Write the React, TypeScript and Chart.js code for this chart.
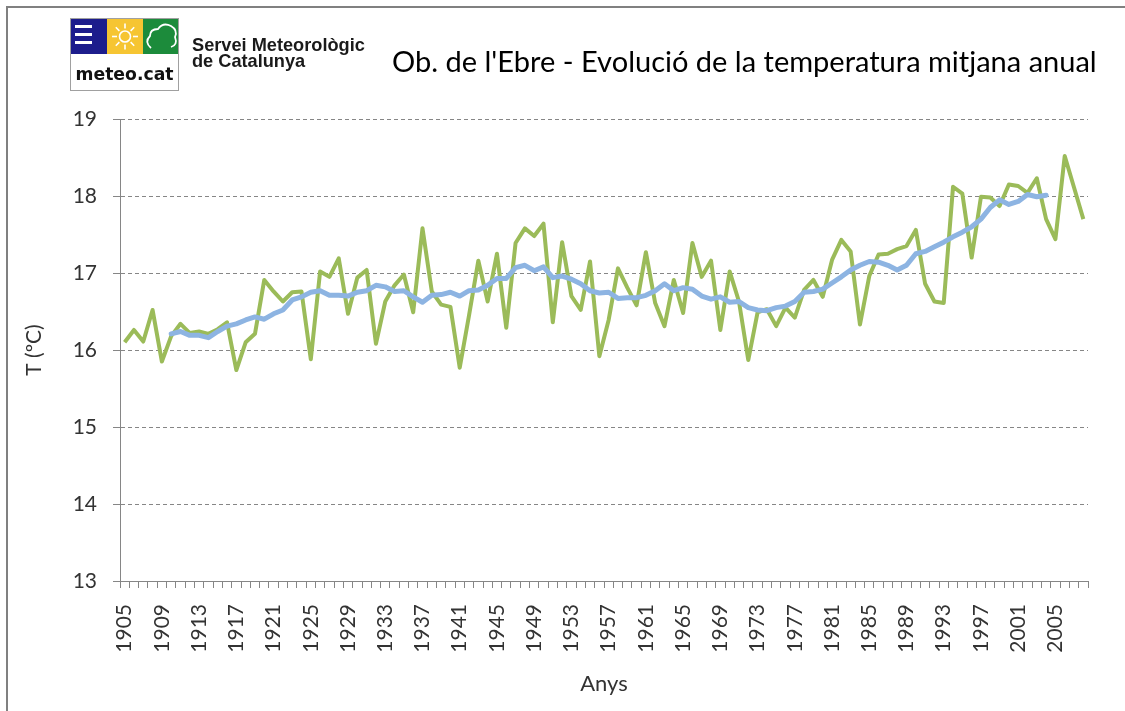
import React, { useEffect, useRef } from "react";
import { Chart, registerables } from "chart.js";

Chart.register(...registerables);

const years: string[] = [
  "1905", "1906", "1907", "1908", "1909", "1910", "1911", "1912", "1913", "1914",
  "1915", "1916", "1917", "1918", "1919", "1920", "1921", "1922", "1923", "1924",
  "1925", "1926", "1927", "1928", "1929", "1930", "1931", "1932", "1933", "1934",
  "1935", "1936", "1937", "1938", "1939", "1940", "1941", "1942", "1943", "1944",
  "1945", "1946", "1947", "1948", "1949", "1950", "1951", "1952", "1953", "1954",
  "1955", "1956", "1957", "1958", "1959", "1960", "1961", "1962", "1963", "1964",
  "1965", "1966", "1967", "1968", "1969", "1970", "1971", "1972", "1973", "1974",
  "1975", "1976", "1977", "1978", "1979", "1980", "1981", "1982", "1983", "1984",
  "1985", "1986", "1987", "1988", "1989", "1990", "1991", "1992", "1993", "1994",
  "1995", "1996", "1997", "1998", "1999", "2000", "2001", "2002", "2003", "2004",
  "2005", "2006", "2007", "2008",
];

// Annual mean temperature (ºC), 1905–2008
const annualTemp: number[] = [
  16.10, 16.26, 16.11, 16.52, 15.85, 16.18, 16.34, 16.22, 16.24, 16.21,
  16.27, 16.36, 15.74, 16.10, 16.21, 16.91, 16.76, 16.63, 16.75, 16.76,
  15.88, 17.02, 16.95, 17.19, 16.47, 16.94, 17.04, 16.08, 16.63, 16.84,
  16.98, 16.49, 17.58, 16.76, 16.59, 16.56, 15.77, 16.45, 17.16, 16.63,
  17.25, 16.29, 17.39, 17.58, 17.48, 17.64, 16.36, 17.40, 16.70, 16.52,
  17.15, 15.92, 16.39, 17.06, 16.81, 16.58, 17.27, 16.61, 16.31, 16.91,
  16.48, 17.39, 16.95, 17.16, 16.26, 17.02, 16.63, 15.87, 16.49, 16.53,
  16.31, 16.55, 16.42, 16.78, 16.91, 16.69, 17.17, 17.43, 17.28, 16.33,
  16.96, 17.24, 17.25, 17.31, 17.35, 17.56, 16.86, 16.63, 16.61, 18.12,
  18.03, 17.20, 17.99, 17.98, 17.87, 18.15, 18.13, 18.04, 18.23, 17.70,
  17.44, 18.52, 18.11, 17.70,
];

// Moving average, 1910–2004
const smoothStartIndex = 5; // first value belongs to 1910
const smoothTemp: number[] = [
  16.21, 16.24, 16.19, 16.19, 16.16, 16.24, 16.31, 16.34, 16.39, 16.43,
  16.40, 16.47, 16.52, 16.65, 16.69, 16.75, 16.77, 16.71, 16.71, 16.70,
  16.75, 16.77, 16.84, 16.82, 16.76, 16.77, 16.69, 16.62, 16.71, 16.72,
  16.75, 16.70, 16.77, 16.78, 16.84, 16.93, 16.93, 17.07, 17.10, 17.03,
  17.08, 16.94, 16.96, 16.92, 16.86, 16.77, 16.74, 16.75, 16.67, 16.68,
  16.68, 16.71, 16.77, 16.86, 16.77, 16.81, 16.79, 16.70, 16.66, 16.69,
  16.62, 16.63, 16.55, 16.52, 16.51, 16.55, 16.57, 16.63, 16.75, 16.76,
  16.79, 16.87, 16.95, 17.04, 17.10, 17.15, 17.14, 17.10, 17.04, 17.10,
  17.25, 17.28, 17.34, 17.40, 17.47, 17.53, 17.60, 17.70, 17.85, 17.95,
  17.89, 17.93, 18.02, 17.99, 18.01,
];

const yMin = 13;
const yMax = 19;

const titleText = "Ob. de l'Ebre - Evolució de la temperatura mitjana anual";
const orgLine1 = "Servei Meteorològic";
const orgLine2 = "de Catalunya";
const logoText = "meteo.cat";
const xTitle = "Anys";
const yTitle = "T (ºC)";

const W = 1125;
const H = 711;

function fitFont(ctx: CanvasRenderingContext2D, text: string, weight: string, family: string, target: number, base: number) {
  ctx.font = `${weight} ${base}px ${family}`;
  const m = ctx.measureText(text).width;
  const size = (base * target) / m;
  return `${weight} ${size.toFixed(2)}px ${family}`;
}

const decorPlugin = {
  id: "decor",
  beforeDraw(chart: any) {
    const ctx: CanvasRenderingContext2D = chart.ctx;
    ctx.save();
    ctx.fillStyle = "#ffffff";
    ctx.fillRect(0, 0, chart.width, chart.height);
    // frame (top & left visible)
    ctx.fillStyle = "#808080";
    ctx.fillRect(6, 6, chart.width - 6, 2);
    ctx.fillRect(6, 6, 2, chart.height - 6);

    // logo box
    ctx.fillStyle = "#ffffff";
    ctx.fillRect(70, 18, 109, 72);
    ctx.strokeStyle = "#a0a0a0";
    ctx.lineWidth = 1;
    ctx.strokeRect(70.5, 18.5, 108, 72);
    // blue square
    ctx.fillStyle = "#1d1d8c";
    ctx.fillRect(71, 19, 36, 35);
    ctx.fillStyle = "#ffffff";
    ctx.fillRect(75, 25, 17, 3);
    ctx.fillRect(75, 33, 17, 3);
    ctx.fillRect(75, 41, 17, 3);
    // yellow square with sun
    ctx.fillStyle = "#f6c532";
    ctx.fillRect(107, 19, 36, 35);
    ctx.strokeStyle = "#ffffff";
    ctx.lineWidth = 1.6;
    ctx.beginPath();
    ctx.arc(125, 36.5, 5.5, 0, Math.PI * 2);
    ctx.stroke();
    for (let k = 0; k < 8; k++) {
      const a = (k * Math.PI) / 4;
      ctx.beginPath();
      ctx.moveTo(125 + Math.cos(a) * 8, 36.5 + Math.sin(a) * 8);
      ctx.lineTo(125 + Math.cos(a) * 13, 36.5 + Math.sin(a) * 13);
      ctx.stroke();
    }
    // green square with cloud
    ctx.fillStyle = "#1c8b3b";
    ctx.fillRect(143, 19, 35, 35);
    ctx.strokeStyle = "#ffffff";
    ctx.lineWidth = 1.8;
    ctx.beginPath();
    ctx.moveTo(151, 48);
    ctx.quadraticCurveTo(144, 42, 150, 36);
    ctx.quadraticCurveTo(150, 29, 158, 29);
    ctx.quadraticCurveTo(163, 22, 171, 26);
    ctx.quadraticCurveTo(178, 30, 175, 37);
    ctx.quadraticCurveTo(178, 45, 171, 47);
    ctx.stroke();
    // logo text
    ctx.fillStyle = "#111111";
    ctx.font = fitFont(ctx, logoText, "bold", "'DejaVu Sans'", 98, 18);
    ctx.textBaseline = "alphabetic";
    ctx.textAlign = "center";
    ctx.fillText(logoText, 124.5, 80);

    // organisation text
    ctx.textAlign = "left";
    ctx.fillStyle = "#1a1a1a";
    const orgFont = fitFont(ctx, orgLine1, "bold", "'Liberation Sans'", 173, 15);
    ctx.font = orgFont;
    ctx.fillText(orgLine1, 192, 51);
    ctx.fillText(orgLine2, 192, 67);

    // main title
    ctx.fillStyle = "#000000";
    ctx.font = fitFont(ctx, titleText, "normal", "Lato", 705, 26);
    ctx.fillText(titleText, 392, 72);
    ctx.restore();
  },
};

export default function App() {
  const canvasRef = useRef<HTMLCanvasElement | null>(null);

  useEffect(() => {
    if (!canvasRef.current) return;
    const smoothFull: (number | null)[] = years.map((_, i) => {
      const j = i - smoothStartIndex;
      return j >= 0 && j < smoothTemp.length ? smoothTemp[j] : null;
    });

    const tickFont = { family: "Lato", size: 21 };
    const chart = new Chart(canvasRef.current, {
      type: "line",
      data: {
        labels: years,
        datasets: [
          {
            label: "Mitjana mòbil",
            data: smoothFull,
            borderColor: "#8db4e2",
            borderWidth: 5,
            pointRadius: 0,
            tension: 0,
            order: 0,
            borderCapStyle: "round",
            borderJoinStyle: "round",
          },
          {
            label: "Temperatura mitjana anual",
            data: annualTemp,
            borderColor: "#9bbb59",
            borderWidth: 4,
            pointRadius: 0,
            tension: 0,
            order: 1,
            borderJoinStyle: "round",
          },
        ],
      },
      options: {
        responsive: false,
        animation: false,
        events: [],
        layout: { padding: { top: 119, right: 37, bottom: 0, left: 0 } },
        plugins: {
          legend: { display: false },
          title: { display: false },
          tooltip: { enabled: false },
        },
        scales: {
          x: {
            type: "category",
            offset: true,
            grid: {
              display: true,
              offset: true,
              drawOnChartArea: false,
              drawTicks: true,
              tickLength: 7,
              color: "#868686",
            },
            border: { display: true, color: "#868686", width: 1 },
            ticks: {
              autoSkip: false,
              maxRotation: 90,
              minRotation: 90,
              padding: 16,
              color: "#333333",
              font: tickFont,
              callback: (_v: any, i: number) => (i % 4 === 0 ? years[i] : ""),
            },
            title: {
              display: true,
              text: xTitle,
              color: "#333333",
              font: { family: "Lato", size: 22 },
              padding: { top: 0, bottom: 14 },
            },
            afterFit: (scale: any) => {
              scale.height = 130;
            },
          },
          y: {
            min: yMin,
            max: yMax,
            ticks: {
              stepSize: 1,
              padding: 16,
              color: "#333333",
              font: tickFont,
            },
            grid: {
              color: "#868686",
              lineWidth: 1,
              drawTicks: true,
              tickLength: 7,
              tickColor: "#868686",
            },
            border: { display: true, color: "#868686", width: 1, dash: [4, 3] },
            title: {
              display: true,
              text: yTitle,
              color: "#333333",
              font: { family: "Lato", size: 21 },
              padding: { top: 22, bottom: 0 },
            },
            afterFit: (scale: any) => {
              scale.width = 120;
            },
          },
        },
      },
      plugins: [decorPlugin],
    });
    return () => chart.destroy();
  }, []);

  return (
    <div style={{ position: "absolute", left: 0, top: 0, width: W, height: H, background: "#fff" }}>
      <canvas ref={canvasRef} width={W} height={H} style={{ display: "block", width: W, height: H }} />
    </div>
  );
}
